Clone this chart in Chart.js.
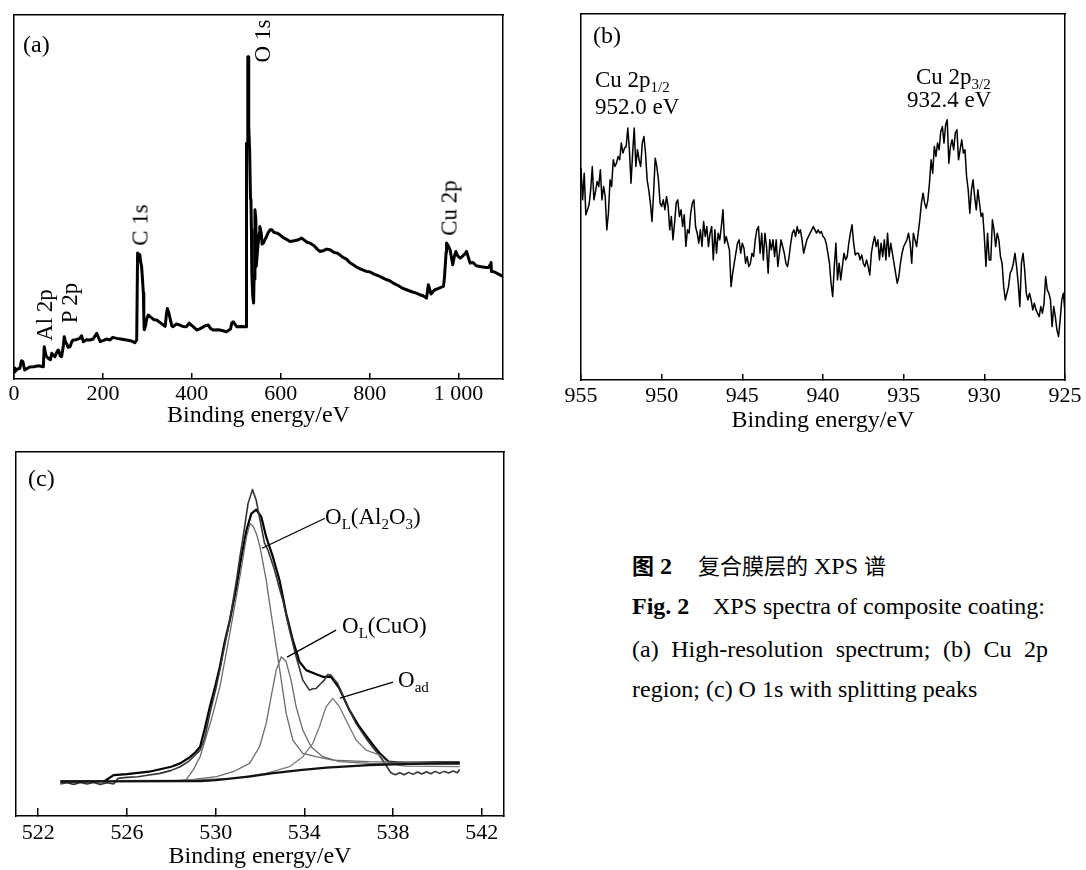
<!DOCTYPE html>
<html><head><meta charset="utf-8">
<script src="https://cdn.jsdelivr.net/npm/chart.js@4.4.1/dist/chart.umd.min.js"></script>
<style>
html,body{margin:0;padding:0;background:#fff;}
body{width:1086px;height:870px;overflow:hidden;position:relative;font-family:"Liberation Serif","Times New Roman",serif;color:#000;}
canvas{position:absolute;}
.t{position:absolute;font-size:23px;line-height:1;white-space:nowrap;}
.r{position:absolute;font-size:23px;line-height:1;white-space:nowrap;transform:translate(-50%,-50%) rotate(-90deg);}
.t sub{font-size:15px;vertical-align:-5px;line-height:0;}
.cap{position:absolute;font-size:24px;line-height:1;white-space:nowrap;}
.j{width:416px;text-align:justify;text-align-last:justify;}
.cjk{font-family:"Noto Sans CJK SC",sans-serif;font-size:22px;}
</style></head>
<body>
<canvas id="ca" width="540" height="440" style="left:0;top:0"></canvas>
<canvas id="cb" width="560" height="445" style="left:550px;top:0"></canvas>
<canvas id="cc" width="540" height="440" style="left:0;top:440px"></canvas>

<div class="t" style="left:23px;top:32px;font-size:24px">(a)</div>
<div class="r" style="left:262px;top:41px">O 1s</div>
<div class="r" style="left:140px;top:225px">C 1s</div>
<div class="r" style="left:449px;top:208px">Cu 2p</div>
<div class="r" style="left:44px;top:315px">Al 2p</div>
<div class="r" style="left:69px;top:303px">P 2p</div>

<div class="t" style="left:593px;top:23px;font-size:24px">(b)</div>
<div class="t" style="left:595px;top:68px">Cu 2p<sub>1/2</sub></div>
<div class="t" style="left:595px;top:95px">952.0 eV</div>
<div class="t" style="left:916px;top:65px">Cu 2p<sub>3/2</sub></div>
<div class="t" style="left:907px;top:88px">932.4 eV</div>

<div class="t" style="left:28px;top:466px;font-size:24px">(c)</div>
<div class="t" style="left:325px;top:505px">O<sub>L</sub>(Al<sub>2</sub>O<sub>3</sub>)</div>
<div class="t" style="left:342px;top:614px">O<sub>L</sub>(CuO)</div>
<div class="t" style="left:398px;top:668px">O<sub>ad</sub></div>

<div class="cap" style="left:632px;top:553px"><span class="cjk" style="font-weight:bold">图</span> <b>2</b></div>
<div class="cap" style="left:698px;top:553px"><span class="cjk">复合膜层的</span> XPS <span class="cjk">谱</span></div>
<div class="cap" style="left:632px;top:594px"><b>Fig. 2</b></div>
<div class="cap" style="left:713px;top:594px">XPS spectra of composite coating:</div>
<div class="cap j" style="left:632px;top:637px">(a) High-resolution spectrum; (b) Cu 2p</div>
<div class="cap" style="left:632px;top:677px">region; (c) O 1s with splitting peaks</div>

<script>
// ---------- Panel (a): survey spectrum ----------
const aEnergy = [0,2,8,13,17,20,24,35,44,55,66,68,72,77,82,85,90,92,98,100,104,107,111,113,116,118,122,126,130,133,140,148,152,156,163,171,178,186,190,194,200,208,216,222,231,240,253,262,272,276,278,281,283,285,287,289,291,292,293,296,298,302,308,315,321,328,336,340,343,345,348,351,355,358,365,373,380,388,394,399,405,411,420,430,437,442,448,460,470,478,487,490,493,497,501,510,522,523,525,526,527,528,530,532,533,534,535,537,539,540,542,544,545,548,550,552,553,556,558,561,565,568,572,576,580,585,592,598,605,612,621,630,640,647,655,660,666,675,682,688,695,703,711,720,727,733,740,748,755,763,772,780,793,800,810,823,835,845,853,865,875,883,895,905,913,920,928,930,932,935,938,940,944,947,955,960,966,968,970,972,973,977,981,984,987,990,994,998,1004,1010,1014,1018,1022,1026,1032,1040,1048,1055,1062,1068,1071,1073,1074,1080,1090,1100];
const aIntensity = [33,22,30,32,55,52,27,36,37,40,37,97,70,62,58,77,70,67,85,87,70,67,100,127,110,107,95,97,112,117,118,122,130,112,118,117,120,137,125,112,115,120,117,125,122,120,117,115,109,117,378,375,373,350,338,300,258,190,148,160,178,192,185,178,177,170,162,158,195,212,200,182,160,157,165,162,158,157,168,162,155,147,152,160,162,152,147,148,145,142,150,168,172,165,157,158,157,708,700,968,968,760,688,540,538,450,318,250,228,300,508,480,338,390,418,440,458,440,405,408,420,428,440,448,448,440,438,433,425,420,413,415,418,423,415,410,408,400,390,383,385,390,388,380,378,373,365,360,350,343,335,330,323,322,315,308,300,295,288,280,272,268,262,258,253,250,243,262,283,270,255,258,265,268,272,275,278,300,338,380,408,400,388,365,343,365,383,370,363,370,375,383,365,348,350,340,338,336,335,335,343,350,323,322,315,308];
const aTicks = [0,200,400,600,800,1000];
const aTickLabels = ['0','200','400','600','800','1 000'];

// ---------- Panel (b): Cu 2p region (0.1 eV grid from 955 to 925 eV) ----------
const bStart = 955, bEnd = 925;
const bIntensity = [635,540,620,495,510,525,570,640,540,565,595,580,630,540,580,550,450,500,600,580,660,640,650,670,660,710,680,695,700,755,690,590,680,755,640,690,660,640,710,730,680,600,570,530,475,560,665,640,600,530,520,540,510,550,520,450,490,420,470,530,540,490,510,460,495,400,450,440,500,530,540,460,440,410,450,400,475,430,460,400,440,460,360,450,380,440,420,460,510,410,430,410,390,280,320,350,380,410,420,380,410,395,350,370,340,350,380,370,420,450,460,380,440,360,440,400,320,420,390,420,370,420,340,380,420,400,380,350,340,370,410,440,450,430,460,440,450,420,380,400,420,430,440,450,460,450,440,450,440,445,430,425,410,380,350,290,250,340,410,300,350,300,340,380,360,370,410,440,465,410,375,380,380,360,375,350,340,360,340,315,380,410,430,400,420,360,410,370,420,360,440,370,410,380,350,320,290,310,350,380,400,410,420,440,410,350,440,420,400,440,480,530,560,530,515,540,590,660,620,700,670,710,690,745,760,710,765,780,650,700,720,690,740,750,660,690,720,680,690,610,570,500,570,600,550,510,570,530,490,500,430,340,440,360,360,480,450,400,440,420,370,350,280,240,260,280,320,330,350,380,340,290,220,350,380,330,260,240,260,240,210,230,210,200,190,220,200,230,310,270,260,240,160,220,190,150,130,180,240,260,200];
const bTicks = [925,930,935,940,945,950,955];

// ---------- Panel (c): O 1s with fitted peaks ----------
const cRawE = [523.0,523.3,523.6,523.9,524.2,524.5,524.8,525.1,525.4,525.6,526.0,526.5,527.0,527.5,528.0,528.4,528.8,529.1,529.3,529.5,529.74,530.0,530.19,530.4,530.64,530.94,531.1,531.24,531.46,531.66,531.83,532.06,532.2,532.36,532.5,532.66,532.85,533.03,533.33,533.63,533.93,534.23,534.4,534.53,534.7,534.9,535.05,535.2,535.35,535.5,535.88,536.33,536.78,537.1,537.4,537.7,537.9,538.1,538.3,538.5,538.7,538.9,539.1,539.3,539.5,539.7,539.9,540.1,540.3,540.5,540.7,540.9,541.0];
const cRawI = [96,100,95,101,96,101,95,100,96,113,116,118,123,128,137,148,165,185,198,232,308,380,438,510,588,708,780,838,938,980,948,868,820,798,770,738,690,648,558,478,408,378,382,383,395,408,425,423,410,398,338,278,233,205,180,150,130,124,130,124,131,125,132,126,133,127,134,128,134,129,135,130,140];
const cEnvE = [523.0,524.0,525.0,525.4,526.0,527.0,528.0,528.4,528.8,529.1,529.3,529.5,529.74,530.0,530.19,530.4,530.64,530.94,531.16,531.39,531.61,531.83,532.06,532.28,532.58,532.88,533.18,533.48,533.78,534.08,534.45,534.83,535.2,535.58,536.03,536.48,536.93,537.4,537.8,538.3,539.0,540.0,541.0];
const cEnvI = [104,104,105,123,126,133,148,158,175,192,208,260,328,395,448,520,588,688,778,858,908,920,898,838,778,708,608,528,463,438,428,418,418,383,318,268,228,188,163,160,160,161,161];
const cAlE = [523.0,528.6,528.7,528.85,529.0,529.3,529.8,530.2,530.64,531.09,531.39,531.55,531.69,531.85,532.0,532.28,532.5,532.73,532.96,533.18,533.48,533.93,534.53,535.28,536.9,538.0,539.5,541.0];
const cAlI = [103,106,112,125,140,178,288,390,548,718,838,878,870,845,808,708,608,508,408,308,228,188,178,168,163,162,160,158];
const cCuE = [525.4,528.4,529.0,530.04,530.79,531.53,531.98,532.28,532.5,532.73,532.96,533.18,533.4,533.63,533.93,534.3,534.83,535.58,536.93,538.0,541.0];
const cCuI = [106,108,110,118,133,158,208,278,358,438,478,463,408,328,258,208,178,163,158,157,156];
const cAdE = [525.4,528.0,530.79,532.28,533.33,533.93,534.38,534.68,534.98,535.28,535.58,535.88,536.33,536.78,537.4,537.8,538.5,541.0];
const cAdI = [104,106,113,128,148,178,218,268,328,353,328,288,228,198,183,158,150,148];
const cBgE = [523.0,525.0,528.5,529.3,530.0,531.5,532.5,533.8,535.0,536.9,538.0,539.5,541.0];
const cBgI = [103,104,105,105,108,118,128,138,145,153,155,157,158];
const cTicks = [522,526,530,534,538,542];
const cLeaders = [[[534.93,894],[532.09,804]],[[535.43,558],[533.22,477]],[[538.0,402],[535.6,354]]];

// ---------- helpers ----------
const SERIF = '"Liberation Serif","Times New Roman",serif';
const pts = (xs, ys) => xs.map((x, i) => ({x: x, y: ys[i]}));
const bEnergy = bIntensity.map((_, i) => +(bStart - i * (bStart - bEnd) / (bIntensity.length - 1)).toFixed(3));

function frame(extra) {
  const hidden = {ticks:{display:false}, grid:{display:false}, border:{display:true, color:'#000', width:1.5}};
  return Object.assign({}, extra, {
    x2: Object.assign({type:'linear', position:'top', min:0, max:1, afterFit:s=>{s.height=0;}}, hidden),
    y2: Object.assign({type:'linear', position:'right', min:0, max:1, afterFit:s=>{s.width=0;}}, hidden)
  });
}
function yAxis(max) {
  return {type:'linear', position:'left', min:0, max:max, ticks:{display:false}, grid:{display:false},
          border:{display:true, color:'#000', width:1.5}, afterFit:s=>{s.width=0;}};
}
function xAxis(o) {
  return {type:'linear', position:'bottom', min:o.min, max:o.max, reverse:!!o.reverse,
    afterBuildTicks: s => { s.ticks = o.ticks.map(v => ({value:v})); },
    ticks:{autoSkip:false, maxRotation:0, minRotation:0, padding:o.pad, color:'#000',
           font:{family:SERIF, size:22}, callback:o.cb || (v => String(v))},
    grid:{display:true, drawOnChartArea:false, drawTicks:true, tickLength:-o.tl, color:'#000', lineWidth:1.5},
    border:{display:true, color:'#000', width:1.5},
    title:{display:true, text:'Binding energy/eV', color:'#000', font:{family:SERIF, size:24}, padding:0},
    afterFit: s => { s.height = o.h; }
  };
}
const baseOpts = (pad) => ({
  responsive:false, animation:false, devicePixelRatio:1,
  layout:{padding:pad},
  plugins:{legend:{display:false}, tooltip:{enabled:false}},
  elements:{point:{radius:0}, line:{tension:0, borderJoinStyle:'round'}}
});
const ds = (data, color, width) => ({data:data, borderColor:color, borderWidth:width, xAxisID:'x', yAxisID:'y', fill:false});

// (a)
new Chart(document.getElementById('ca'), {
  type:'line',
  data:{datasets:[ds(pts(aEnergy, aIntensity), '#000', 3)]},
  options: Object.assign(baseOpts({left:14, top:15, right:37, bottom:10}), {
    scales: frame({
      x: xAxis({min:0, max:1100, ticks:aTicks, pad:8, tl:6, h:51, cb:(v,i)=>aTickLabels[i]}),
      y: yAxis(1093)
    })
  })
});

// (b)
new Chart(document.getElementById('cb'), {
  type:'line',
  data:{datasets:[ds(pts(bEnergy, bIntensity), '#000', 1.5)]},
  options: Object.assign(baseOpts({left:31, top:14, right:45, bottom:10}), {
    scales: frame({
      x: xAxis({min:925, max:955, reverse:true, ticks:bTicks, pad:9, tl:6, h:55}),
      y: yAxis(1097)
    })
  })
});

// (c)
const leaderPlugin = {
  id:'leaders',
  afterDatasetsDraw(chart) {
    const ctx = chart.ctx, xs = chart.scales.x, ys = chart.scales.y;
    ctx.save(); ctx.strokeStyle = '#000'; ctx.lineWidth = 1.3;
    cLeaders.forEach(l => {
      ctx.beginPath();
      ctx.moveTo(xs.getPixelForValue(l[0][0]), ys.getPixelForValue(l[0][1]));
      ctx.lineTo(xs.getPixelForValue(l[1][0]), ys.getPixelForValue(l[1][1]));
      ctx.stroke();
    });
    ctx.restore();
  }
};
new Chart(document.getElementById('cc'), {
  type:'line',
  data:{datasets:[
    ds(pts(cBgE, cBgI), '#111', 2.2),
    ds(pts(cAdE, cAdI), '#7a7a7a', 1.3),
    ds(pts(cCuE, cCuI), '#6a6a6a', 1.3),
    ds(pts(cAlE, cAlI), '#6a6a6a', 1.3),
    ds(pts(cRawE, cRawI), '#333', 1.6),
    ds(pts(cEnvE, cEnvI), '#000', 2.2)
  ]},
  options: Object.assign(baseOpts({left:16, top:12, right:36, bottom:9}), {
    scales: frame({
      x: xAxis({min:521, max:543, ticks:cTicks, pad:12, tl:8, h:55}),
      y: yAxis(1093)
    })
  }),
  plugins:[leaderPlugin]
});
</script>
</body></html>
